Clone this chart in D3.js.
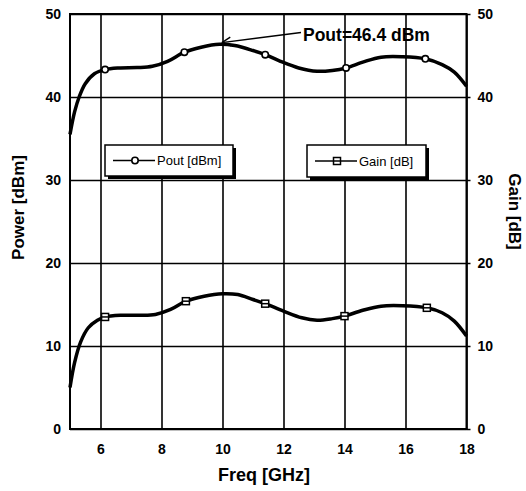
<!DOCTYPE html>
<html>
<head>
<meta charset="utf-8">
<script src="https://cdn.jsdelivr.net/npm/d3@7"></script>
<style>
  body { margin: 0; background: #fff; }
  svg { display: block; font-family: Arial, "Liberation Sans", sans-serif; }
</style>
</head>
<body>
<div id="chart"></div>
<script>
// values
const poutFreq = [5.0, 5.15, 5.3, 5.5, 5.8, 6.15, 6.6, 7.2, 7.7, 8.2, 8.75, 9.3, 9.9, 10.4, 11.0, 11.4, 11.9, 12.5, 13.1, 13.6, 14.05, 14.6, 15.2, 15.9, 16.65, 17.2, 17.6, 18.0];
const poutVals = [35.5, 38.2, 40.0, 41.6, 42.8, 43.3, 43.5, 43.55, 43.7, 44.3, 45.4, 46.0, 46.35, 46.2, 45.6, 45.1, 44.3, 43.5, 43.1, 43.2, 43.5, 44.2, 44.8, 44.85, 44.6, 43.9, 43.0, 41.3];
const gainFreq = [5.0, 5.15, 5.35, 5.6, 5.9, 6.15, 6.7, 7.3, 7.8, 8.3, 8.8, 9.4, 10.0, 10.5, 11.0, 11.4, 12.0, 12.6, 13.1, 13.6, 14.0, 14.6, 15.2, 15.9, 16.7, 17.2, 17.6, 18.0];
const gainVals = [5.0, 8.0, 10.5, 12.2, 13.1, 13.5, 13.7, 13.7, 13.8, 14.4, 15.4, 16.0, 16.3, 16.2, 15.6, 15.1, 14.2, 13.4, 13.1, 13.3, 13.6, 14.3, 14.8, 14.85, 14.6, 14.0, 13.0, 11.2];
const poutMarkFreq = [6.15, 8.75, 11.4, 14.05, 16.65];
const poutMarkVals = [43.3, 45.4, 45.1, 43.5, 44.6];
const gainMarkFreq = [6.15, 8.8, 11.4, 14.0, 16.7];
const gainMarkVals = [13.5, 15.4, 15.1, 13.6, 14.6];
const xTicks = [6, 8, 10, 12, 14, 16, 18];
const yTicks = [0, 10, 20, 30, 40, 50];
const peakLabel = 'Pout=46.4 dBm';

const width = 526, height = 491;
const margin = { top: 14, right: 59.5, bottom: 62, left: 70 };
const w = width - margin.left - margin.right;
const h = height - margin.top - margin.bottom;

const svg = d3.select('#chart').append('svg')
  .attr('width', width)
  .attr('height', height);

const g = svg.append('g')
  .attr('transform', `translate(${margin.left},${margin.top})`);

const x = d3.scaleLinear().domain([5, 18]).range([0, w]);
const yL = d3.scaleLinear().domain([0, 50]).range([h, 0]);
const yR = d3.scaleLinear().domain([0, 50]).range([h, 0]);

// grid
g.append('g')
  .attr('class', 'grid')
  .attr('transform', `translate(0,${h})`)
  .call(d3.axisBottom(x).tickValues(xTicks).tickSize(-h).tickFormat(''))
  .call(s => s.select('.domain').remove());
g.append('g')
  .attr('class', 'grid')
  .call(d3.axisLeft(yL).tickValues(yTicks).tickSize(-w).tickFormat(''))
  .call(s => s.select('.domain').remove());
g.selectAll('.grid line').attr('stroke', '#000').attr('stroke-width', 1.6);

g.append('rect')
  .attr('width', w).attr('height', h)
  .attr('fill', 'none').attr('stroke', '#000').attr('stroke-width', 2);

// tick labels
const xAxis = g.append('g')
  .attr('transform', `translate(0,${h})`)
  .call(d3.axisBottom(x).tickValues(xTicks).tickSize(0).tickPadding(15));
const yAxisL = g.append('g')
  .call(d3.axisLeft(yL).tickValues(yTicks).tickSize(0).tickPadding(9));
const yAxisR = g.append('g')
  .attr('transform', `translate(${w},0)`)
  .call(d3.axisRight(yR).tickValues(yTicks).tickSize(4).tickPadding(7));
[xAxis, yAxisL, yAxisR].forEach(a => {
  a.select('.domain').remove();
  a.selectAll('text').attr('font-size', 14).attr('font-weight', 'bold').attr('fill', '#000');
  a.selectAll('line').attr('stroke', '#000').attr('stroke-width', 1.5);
});

// curves
const line = (xs, ys, yScale) => d3.line()
  .x((d, i) => x(xs[i]))
  .y((d, i) => yScale(ys[i]))
  .curve(d3.curveCatmullRom.alpha(0.5))(xs);

g.append('path')
  .attr('d', line(poutFreq, poutVals, yL))
  .attr('fill', 'none').attr('stroke', '#000').attr('stroke-width', 3.5);
g.append('path')
  .attr('d', line(gainFreq, gainVals, yR))
  .attr('fill', 'none').attr('stroke', '#000').attr('stroke-width', 3.5);

const circleMark = (sel, cx, cy) => sel.append('circle')
  .attr('cx', cx).attr('cy', cy).attr('r', 3.2)
  .attr('fill', '#fff').attr('stroke', '#000').attr('stroke-width', 1.6);
const squareMark = (sel, cx, cy) => {
  sel.append('rect')
    .attr('x', cx - 3.5).attr('y', cy - 3.5).attr('width', 7).attr('height', 7)
    .attr('fill', '#fff').attr('stroke', '#000').attr('stroke-width', 1.5);
  sel.append('line')
    .attr('x1', cx - 3.5).attr('x2', cx + 3.5).attr('y1', cy).attr('y2', cy)
    .attr('stroke', '#000').attr('stroke-width', 1.5);
};

poutMarkFreq.forEach((f, i) => circleMark(g, x(f), yL(poutMarkVals[i])));
gainMarkFreq.forEach((f, i) => squareMark(g, x(f), yR(gainMarkVals[i])));

// legends
const legend = (x0, y0, bw, bh, label, markFn) => {
  const lg = svg.append('g').attr('transform', `translate(${x0},${y0})`);
  lg.append('rect').attr('x', 3).attr('y', 3).attr('width', bw).attr('height', bh).attr('fill', '#000');
  lg.append('rect').attr('width', bw).attr('height', bh)
    .attr('fill', '#fff').attr('stroke', '#000').attr('stroke-width', 1.5);
  lg.append('line').attr('x1', 8).attr('x2', 50).attr('y1', bh / 2).attr('y2', bh / 2)
    .attr('stroke', '#000').attr('stroke-width', 1.6);
  markFn(lg, 30, bh / 2);
  lg.append('text').attr('x', 52).attr('y', bh / 2 + 4.5)
    .attr('font-size', 13).text(label);
};
legend(105, 145, 128, 31, 'Pout [dBm]', circleMark);
legend(307, 145, 119, 32, 'Gain [dB]', squareMark);

// annotation of the peak
const tip = [x(9.98) + margin.left, yL(46.55) + margin.top];
const tail = [301, 32.5];
svg.append('line')
  .attr('x1', tail[0]).attr('y1', tail[1]).attr('x2', tip[0]).attr('y2', tip[1])
  .attr('stroke', '#000').attr('stroke-width', 1.4);
const ang = Math.atan2(tail[1] - tip[1], tail[0] - tip[0]);
[0.45, -0.45].forEach(da => {
  svg.append('line')
    .attr('x1', tip[0]).attr('y1', tip[1])
    .attr('x2', tip[0] + 10 * Math.cos(ang + da)).attr('y2', tip[1] + 10 * Math.sin(ang + da))
    .attr('stroke', '#000').attr('stroke-width', 1.4);
});
svg.append('text')
  .attr('x', 303).attr('y', 41)
  .attr('font-size', 17.5).attr('font-weight', 'bold')
  .text(peakLabel);

// axis titles
svg.append('text')
  .attr('transform', `translate(24,${margin.top + h / 2 - 14}) rotate(-90)`)
  .attr('text-anchor', 'middle')
  .attr('font-size', 17).attr('font-weight', 'bold')
  .text('Power [dBm]');
svg.append('text')
  .attr('transform', `translate(509,${margin.top + h / 2 - 10}) rotate(90)`)
  .attr('text-anchor', 'middle')
  .attr('font-size', 17).attr('font-weight', 'bold')
  .text('Gain [dB]');
svg.append('text')
  .attr('x', 264).attr('y', 481)
  .attr('text-anchor', 'middle')
  .attr('font-size', 18).attr('font-weight', 'bold')
  .text('Freq [GHz]');
</script>
</body>
</html>
